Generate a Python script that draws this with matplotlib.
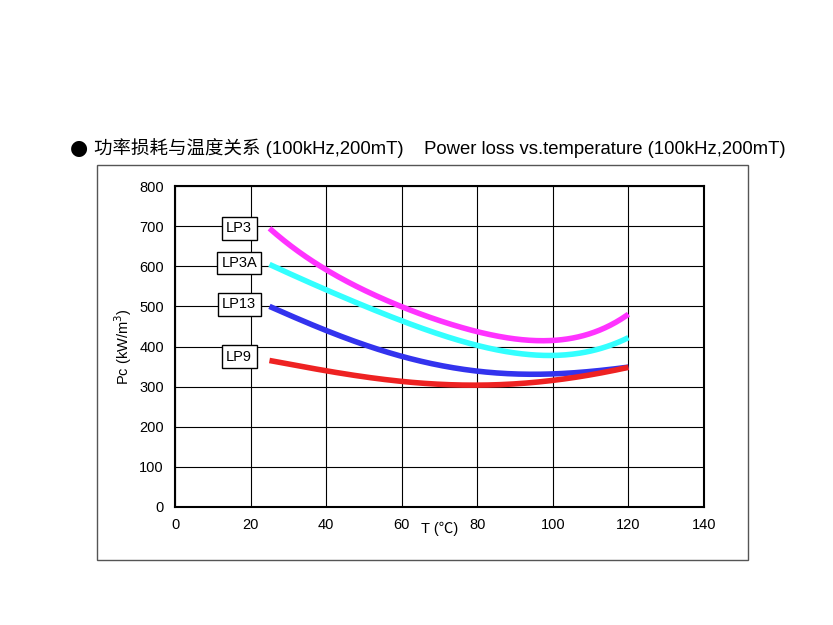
import numpy as np
import matplotlib.pyplot as plt
from matplotlib.patches import Rectangle

plt.rcParams['font.family'] = ['Liberation Sans', 'Noto Sans CJK SC', 'DejaVu Sans']

temps = [25, 40, 60, 80, 95, 100, 110, 120]
lp3 = [695, 590, 500, 440, 410, 412, 440, 478]
lp3a = [605, 540, 465, 405, 375, 375, 395, 420]
lp13 = [500, 440, 375, 340, 330, 330, 340, 348]
lp9 = [365, 340, 312, 305, 310, 315, 330, 348]
series = [("LP3", lp3, "#ff33ff", 695), ("LP3A", lp3a, "#33ffff", 608),
          ("LP13", lp13, "#3333ee", 505), ("LP9", lp9, "#ee2222", 375)]

fig = plt.figure(figsize=(8.33, 6.25), dpi=100)
fig.patches.append(Rectangle((97/833, 1-560/625), 651/833, 395/625,
                             transform=fig.transFigure, fill=False, ec="#555555", lw=1))
ax = fig.add_axes([175/833, 1-507/625, 529/833, 321/625])

for name, vals, col, ly in series:
    # smooth curve through the read points
    coef = np.polyfit(temps, vals, 4)
    xs = np.linspace(25, 120, 200)
    ax.plot(xs, np.polyval(coef, xs), color=col, lw=4, solid_capstyle='butt', clip_on=False)
    ax.text(17, ly, name, ha='center', va='center', fontsize=10.5,
            bbox=dict(boxstyle='square,pad=0.3', fc='white', ec='black', lw=1))

ax.set_xlim(0, 140)
ax.set_ylim(0, 800)
ax.set_xticks(range(0, 141, 20))
ax.set_yticks(range(0, 801, 100))
ax.grid(True, color='black', lw=0.8)
ax.tick_params(length=0, labelsize=10.5, pad=8)
for s in ax.spines.values():
    s.set_linewidth(1.5)
ax.set_ylabel("Pc (kW/m$^3$)", fontsize=10.5)
ax.text(70, -55, "T (℃)", ha='center', va='center', fontsize=10.5)

fig.text(70/833, 1-148/625, "●", fontsize=15, va='center', ha='left', family='DejaVu Sans')
fig.text(94/833, 1-148/625, "功率损耗与温度关系 (100kHz,200mT)    Power loss vs.temperature (100kHz,200mT)",
         fontsize=13.3, va='center', ha='left')
fig.savefig("out.png", dpi=100)
